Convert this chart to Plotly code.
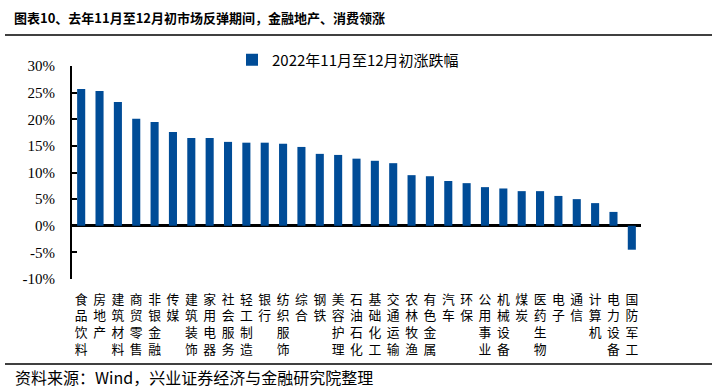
import plotly.graph_objects as go

categories = ["食品饮料", "房地产", "建筑材料", "商贸零售", "非银金融", "传媒", "建筑装饰", "家用电器",
              "社会服务", "轻工制造", "银行", "纺织服饰", "综合", "钢铁", "美容护理", "石油石化",
              "基础化工", "交通运输", "农林牧渔", "有色金属", "汽车", "环保", "公用事业", "机械设备",
              "煤炭", "医药生物", "电子", "通信", "计算机", "电力设备", "国防军工"]
values = [25.7, 25.3, 23.25, 20.1, 19.5, 17.6, 16.5, 16.5, 15.75, 15.6, 15.6, 15.4, 14.8, 13.5, 13.3,
          12.6, 12.2, 11.75, 9.5, 9.3, 8.4, 8.0, 7.25, 7.0, 6.5, 6.5, 5.6, 5.0, 4.25, 2.6, -4.5]
series_name = "2022年11月至12月初涨跌幅"
title_text = "图表10、去年11月至12月初市场反弹期间，金融地产、消费领涨"
source_text = "资料来源：Wind，兴业证券经济与金融研究院整理"
y_ticks = [-10, -5, 0, 5, 10, 15, 20, 25, 30]

tick_text = ["<br>".join(list(c)) for c in categories]

W, H = 721, 392
L, R, T, B = 72, 80, 66, 113
pw, ph = W - L - R, H - T - B

def px_x(px):
    return (px - L) / pw

def px_y(py):
    return (H - B - py) / ph

fig = go.Figure()
fig.add_trace(go.Bar(
    x=categories, y=values, name=series_name,
    marker=dict(color="#004C97", line=dict(width=0)),
    width=0.44,
))

fig.update_layout(
    width=W, height=H,
    margin=dict(l=L, r=R, t=T, b=B, pad=0, autoexpand=False),
    paper_bgcolor="white", plot_bgcolor="white",
    font=dict(family="Noto Sans CJK SC", color="black"),
    showlegend=True,
    legend=dict(xref="container", yref="container", x=232 / W, y=1 - 60 / H,
                xanchor="left", yanchor="middle",
                font=dict(size=15, family="Noto Sans CJK SC"),
                bgcolor="rgba(0,0,0,0)", itemwidth=30, itemsizing="constant"),
)

fig.update_xaxes(
    type="category", categoryorder="array", categoryarray=categories,
    tickvals=categories, ticktext=tick_text,
    tickfont=dict(size=12.8, family="Noto Sans CJK SC"),
    showline=False, ticks="", showgrid=False, zeroline=False, automargin=False,
    tickangle=0, range=[-0.5, len(categories) - 0.5], ticklabelstandoff=11,
)
fig.update_yaxes(
    range=[-10, 30], tickvals=y_ticks, ticktext=[f"{v}%" for v in y_ticks],
    tickfont=dict(size=15, family="Liberation Serif"), automargin=False,
    showline=True, linecolor="black", linewidth=2, ticklabelstandoff=12,
    ticks="inside", ticklen=5, tickwidth=2, tickcolor="black",
    showgrid=False, zeroline=True, zerolinecolor="black", zerolinewidth=2.5,
)

fig.add_annotation(text="<b>" + title_text + "</b>", xref="paper", yref="paper",
                   x=px_x(12), y=px_y(17), xanchor="left", yanchor="middle",
                   showarrow=False, font=dict(size=13, family="Noto Sans CJK SC", color="black"))
fig.add_annotation(text=source_text, xref="paper", yref="paper",
                   x=px_x(13), y=px_y(377), xanchor="left", yanchor="middle",
                   showarrow=False, font=dict(size=16, family="Noto Sans CJK SC", color="black"))
fig.add_shape(type="line", xref="paper", yref="paper", x0=px_x(5), x1=px_x(712),
              y0=px_y(35), y1=px_y(35), line=dict(color="black", width=1.5))
fig.add_shape(type="line", xref="paper", yref="paper", x0=px_x(5), x1=px_x(712),
              y0=px_y(364), y1=px_y(364), line=dict(color="black", width=1.5))

fig.write_html("out.html", post_script="document.body.style.margin='0';",
               config={"displayModeBar": False})
